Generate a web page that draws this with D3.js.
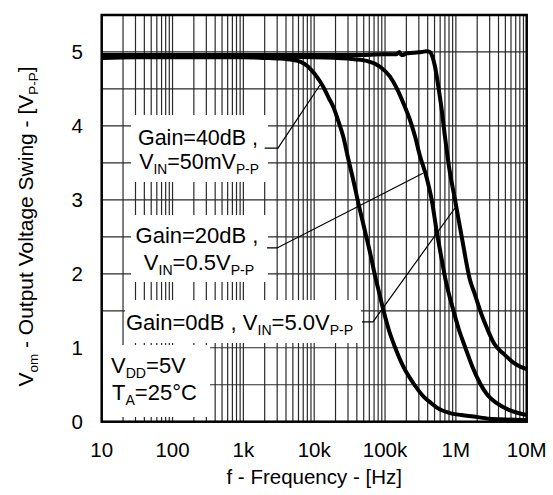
<!DOCTYPE html>
<html><head><meta charset="utf-8">
<script src="https://cdn.jsdelivr.net/npm/d3@7"></script>
<style>
html,body{margin:0;padding:0;background:#fff;}
svg{display:block;font-family:"Liberation Sans",Arial,sans-serif;}
</style></head>
<body><svg id="c" width="553" height="495"></svg>
<script>
// ---- data ----
const xTicks = [10, 100, 1e3, 1e4, 1e5, 1e6, 1e7];
const xTickLabels = ["10", "100", "1k", "10k", "100k", "1M", "10M"];
const yTicks = [0, 1, 2, 3, 4, 5];

// Gain = 40dB, VIN = 50mVp-p
const freq40 = [10,30,100,300,1000,2000,3300,5000,6300,8000,9000,10800,13400,16000,18600,22000,25800,30000,35000,41000,52000,62000,72000,80000,94600,115000,138000,180000,251000,350000,450000,560000,800000,1.2e6,1.76e6,3e6,5e6,1e7];
const vom40  = [4.92,4.93,4.93,4.93,4.93,4.92,4.91,4.89,4.87,4.81,4.76,4.67,4.53,4.38,4.26,4.06,3.85,3.57,3.3,3.0,2.58,2.27,1.98,1.80,1.51,1.22,1.01,0.75,0.52,0.34,0.25,0.18,0.12,0.09,0.07,0.04,0.03,0.02];

// Gain = 20dB, VIN = 0.5Vp-p
const freq20 = [10,100,1000,10000,30000,55000,85000,117000,146000,181000,225000,265000,310000,387000,456000,537000,630000,730000,920000,1.1e6,1.35e6,1.7e6,2.19e6,2.8e6,3.78e6,5.6e6,1e7];
const vom20  = [4.94,4.94,4.94,4.93,4.91,4.88,4.80,4.67,4.51,4.31,4.08,3.86,3.6,3.3,3.0,2.57,2.2,1.88,1.51,1.25,1.01,0.75,0.52,0.36,0.25,0.16,0.09];

// Gain = 0dB, VIN = 5.0Vp-p
const freq0 = [10,100,1000,10000,50000,100000,145000,160000,170000,180000,195000,250000,330000,387000,430000,457000,508000,566000,631000,703000,800000,973000,1.21e6,1.58e6,1.86e6,2.19e6,2.6e6,3.5e6,4.7e6,6.5e6,1e7];
const vom0  = [4.96,4.96,4.96,4.96,4.96,4.97,4.97,5.0,4.96,4.96,4.98,4.99,5.0,5.01,5.0,4.96,4.80,4.53,4.22,3.85,3.45,3.0,2.5,1.92,1.72,1.51,1.32,1.05,0.92,0.8,0.71];

// leader lines (frequency, volts)
const lead40f = [2000, 3080, 12000];  const lead40v = [3.70, 3.70, 4.55];
const lead20f = [2160, 2990, 343000]; const lead20v = [2.35, 2.35, 3.36];
const lead0f  = [47300, 67600, 970000]; const lead0v = [1.35, 1.35, 2.89];

// ---- layout ----
const L = 101.7, R = 526.7, T = 15, B = 421.7;
const svg = d3.select("#c");
const x = d3.scaleLog().domain([10, 1e7]).range([L, R]);
const y = d3.scaleLinear().domain([0, 5.5]).range([B, T]);

// grid
const g = svg.append("g");
const vgrid = [];
for (let d = 10; d < 1e7; d *= 10) for (let k = 1; k <= 9; k++) if (d * k > 10) vgrid.push(d * k);
g.selectAll("line.v").data(vgrid).join("line")
  .attr("x1", d => x(d)).attr("x2", d => x(d)).attr("y1", T).attr("y2", B)
  .attr("stroke", "#2a2a2a").attr("stroke-width", 1.2);
const hgrid = d3.range(0.5, 5.5, 0.5);
g.selectAll("line.h").data(hgrid).join("line")
  .attr("x1", L).attr("x2", R).attr("y1", d => y(d)).attr("y2", d => y(d))
  .attr("stroke", "#2a2a2a").attr("stroke-width", 1.2);

// white label boxes
const boxes = [[131,115,137,67],[131,215,137,67],[125,300,236,43],[103,345,107,72]];
svg.selectAll("rect.box").data(boxes).join("rect")
  .attr("x", d => d[0]).attr("y", d => d[1]).attr("width", d => d[2]).attr("height", d => d[3])
  .attr("fill", "#fff");

// curves
const line = d3.line().x(d => x(d[0])).y(d => y(d[1])).curve(d3.curveMonotoneX);
[[freq40, vom40], [freq20, vom20], [freq0, vom0]].forEach(([f, v]) => {
  svg.append("path").datum(f.map((ff, i) => [ff, v[i]]))
    .attr("d", line).attr("fill", "none").attr("stroke", "#000").attr("stroke-width", 4)
    .attr("stroke-linejoin", "round");
});

// leader lines
const ll = d3.line().x(d => x(d[0])).y(d => y(d[1]));
[[lead40f, lead40v], [lead20f, lead20v], [lead0f, lead0v]].forEach(([f, v]) => {
  svg.append("path").datum(f.map((ff, i) => [ff, v[i]]))
    .attr("d", ll).attr("fill", "none").attr("stroke", "#000").attr("stroke-width", 1.2);
});

// frame
svg.append("rect").attr("x", L).attr("y", T).attr("width", R - L).attr("height", B - T)
  .attr("fill", "none").attr("stroke", "#000").attr("stroke-width", 2.5);

// tick labels
svg.selectAll("text.xt").data(xTicks).join("text")
  .attr("x", d => x(d)).attr("y", 457).attr("text-anchor", "middle")
  .attr("font-size", 20.5).text((d, i) => xTickLabels[i]);
svg.selectAll("text.yt").data(yTicks).join("text")
  .attr("x", 83).attr("y", d => y(d) + 7.5).attr("text-anchor", "end")
  .attr("font-size", 20.5).text(d => d);

// multi-line rich label: lines = [{x, y, parts:[[text,isSub],...]}]
const SUB = 0.64, SHIFT = 0.24;
function label(anchor, fs, lines) {
  const t = svg.append("text").attr("text-anchor", anchor).attr("font-size", fs);
  lines.forEach(ln => {
    const line = t.append("tspan").attr("x", ln.x).attr("y", ln.y);
    let sub = false;
    ln.parts.forEach(([s, isSub]) => {
      const ts = line.append("tspan").text(s);
      if (isSub) { ts.attr("font-size", fs * SUB); if (!sub) ts.attr("dy", fs * SHIFT); }
      else if (sub) ts.attr("dy", -fs * SHIFT);
      sub = isSub;
    });
  });
}
label("middle", 21.5, [
  {x: 198, y: 144.5, parts: [["Gain=40dB ,", false]]},
  {x: 199, y: 169, parts: [["V", false], ["IN", true], ["=50mV", false], ["P-P", true]]}]);
label("middle", 22, [
  {x: 197, y: 243, parts: [["Gain=20dB ,", false]]},
  {x: 199, y: 270, parts: [["V", false], ["IN", true], ["=0.5V", false], ["P-P", true]]}]);
label("start", 22, [
  {x: 126, y: 330, parts: [["Gain=0dB , V", false], ["IN", true], ["=5.0V", false], ["P-P", true]]}]);
label("start", 22, [
  {x: 111, y: 373, parts: [["V", false], ["DD", true], ["=5V", false]]},
  {x: 112, y: 400, parts: [["T", false], ["A", true], ["=25°C", false]]}]);

// axis titles
svg.append("text").attr("x", (L + R) / 2).attr("y", 484).attr("text-anchor", "middle")
  .attr("font-size", 20.5).text("f - Frequency - [Hz]");
const yt = svg.append("text").attr("transform", "translate(33," + ((58 + 395) / 2) + ") rotate(-90)")
  .attr("text-anchor", "middle").attr("font-size", 21);
[["V", false], ["om", true], [" - Output Voltage Swing - [V", false], ["P-P", true], ["]", false]]
  .reduce((sub, [s, isSub]) => {
    const ts = yt.append("tspan").text(s);
    if (isSub) { ts.attr("font-size", 21 * SUB); if (!sub) ts.attr("dy", 21 * SHIFT); }
    else if (sub) ts.attr("dy", -21 * SHIFT);
    return isSub;
  }, false);
</script></body></html>
